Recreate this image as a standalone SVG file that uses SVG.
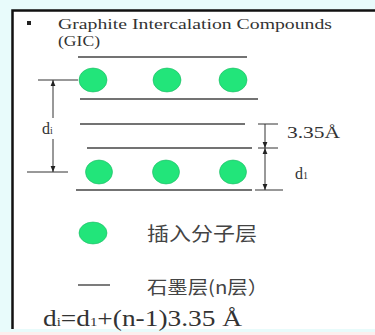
<svg xmlns="http://www.w3.org/2000/svg" width="375" height="335" viewBox="0 0 375 335">
<style>
.serif{font-family:'Liberation Serif','DejaVu Serif','Times New Roman',serif;fill:#333}
.cjk{font-family:'Noto Sans CJK SC','Liberation Sans',sans-serif;fill:#444}
.layer{stroke:#444;stroke-width:1.4;fill:none}
.dim{stroke:#333;stroke-width:1;fill:none}
.mol{fill:#22e57a;stroke:#1cb865;stroke-width:0.6}
</style>
<defs>
<marker id="ah" viewBox="0 0 10 10" refX="10" refY="5" markerWidth="6" markerHeight="6" orient="auto-start-reverse" markerUnits="userSpaceOnUse">
<path d="M0,1 L10,5 L0,9 Z" fill="#222"/>
</marker>
</defs>
<rect x="0" y="0" width="375" height="335" fill="#e8fbfb"/>
<rect x="12" y="10" width="363" height="319" fill="#ffffff"/>
<rect x="0" y="332" width="375" height="3" fill="#fdeeee"/>
<path d="M12.5,329 V10.5 H375" stroke="#111" stroke-width="2.5" fill="none"/>

<g id="title">
<rect x="27" y="21" width="4" height="4" fill="#222"/>
<text class="serif" x="58" y="29" font-size="15" textLength="274" lengthAdjust="spacingAndGlyphs">Graphite Intercalation Compounds</text>
<text class="serif" x="58" y="46" font-size="15" textLength="42" lengthAdjust="spacingAndGlyphs">(GIC)</text>
</g>

<g id="graphite-layers">
<line class="layer" x1="78" y1="57" x2="247" y2="57"/>
<line class="layer" x1="80" y1="99" x2="258" y2="99"/>
<line class="layer" x1="80" y1="124" x2="245" y2="124"/>
<line class="layer" x1="87" y1="148" x2="252" y2="148"/>
<line class="layer" x1="76" y1="190" x2="252" y2="190"/>
</g>

<g id="intercalant-row-1">
<ellipse class="mol" cx="93" cy="80" rx="14" ry="12"/>
<ellipse class="mol" cx="167" cy="80" rx="14" ry="12"/>
<ellipse class="mol" cx="233" cy="80" rx="14" ry="12"/>
</g>
<g id="intercalant-row-2">
<ellipse class="mol" cx="99" cy="172" rx="13.5" ry="12"/>
<ellipse class="mol" cx="166" cy="172" rx="13.5" ry="12"/>
<ellipse class="mol" cx="233" cy="172" rx="13.5" ry="12"/>
</g>

<g id="connectors">
<line class="dim" x1="38" y1="80" x2="78" y2="80"/>
<line class="dim" x1="27" y1="172" x2="68" y2="172"/>
<line class="dim" x1="53" y1="118" x2="53" y2="80" marker-end="url(#ah)"/>
<line class="dim" x1="53" y1="139" x2="53" y2="172" marker-end="url(#ah)"/>
<line class="dim" x1="258" y1="124" x2="278" y2="124"/>
<line class="dim" x1="258" y1="148" x2="278" y2="148"/>
<line class="dim" x1="255" y1="190" x2="283" y2="190"/>
<line class="dim" x1="265" y1="124" x2="265" y2="148" marker-end="url(#ah)"/>
<line class="dim" x1="265" y1="148" x2="265" y2="190" marker-start="url(#ah)" marker-end="url(#ah)"/>
</g>

<g id="labels">
<text class="serif" x="42" y="134" font-size="16">d<tspan font-size="10">i</tspan></text>
<text class="serif" x="287" y="138" font-size="16" textLength="53" lengthAdjust="spacingAndGlyphs">3.35Å</text>
<text class="serif" x="295" y="179" font-size="16">d<tspan font-size="10">1</tspan></text>
</g>

<g id="legend-molecule">
<ellipse class="mol" cx="93" cy="233" rx="14" ry="11"/>
<text class="cjk" x="147" y="241" font-size="19" textLength="110" lengthAdjust="spacingAndGlyphs">插入分子层</text>
</g>
<g id="legend-layer">
<line class="layer" x1="78" y1="285" x2="110" y2="285"/>
<text class="cjk" x="147" y="294" font-size="18" textLength="121" lengthAdjust="spacingAndGlyphs">石墨层(n层）</text>
</g>

<g id="formula">
<text class="serif" x="43" y="326" font-size="24" fill="#222" textLength="199" lengthAdjust="spacingAndGlyphs">d<tspan font-size="13">i</tspan>=d<tspan font-size="13">1</tspan>+(n-1)3.35 Å</text>
</g>
</svg>
